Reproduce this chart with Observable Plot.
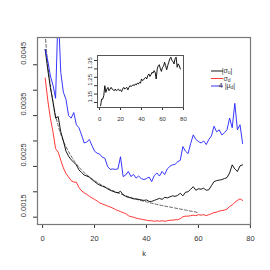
<!DOCTYPE html>
<html>
<head>
<meta charset="utf-8">
<script src="https://cdn.jsdelivr.net/npm/d3@7"></script>
<script src="https://cdn.jsdelivr.net/npm/@observablehq/plot@0.6"></script>
<style>
  html, body { margin: 0; padding: 0; background: #fff; }
  #wrap { position: relative; width: 270px; height: 270px; }
  #inset { position: absolute; left: 79px; top: 47px; }
</style>
</head>
<body>
<div id="wrap"><div id="main"></div><div id="inset"></div></div>
<script>
// ---- data ----
const k = d3.range(1, 78);
const sigmaU = [0.00480,0.00440,0.00405,0.00378,0.00345,0.00348,0.00318,0.00300,0.00280,0.00270,
  0.00263,0.00258,0.00253,0.00243,0.00238,0.00233,0.00231,0.00229,0.00224,0.00220,
  0.00216,0.00213,0.00211,0.00209,0.00206,0.00203,0.00201,0.00199,0.00198,0.00201,
  0.00194,0.00191,0.00189,0.00188,0.00186,0.00186,0.00185,0.00184,0.00183,0.00184,
  0.00181,0.00181,0.00183,0.00185,0.00187,0.00185,0.00189,0.00188,0.00190,0.00192,
  0.00191,0.00193,0.00197,0.00192,0.00199,0.00200,0.00205,0.00210,0.00203,0.00206,
  0.00205,0.00207,0.00203,0.00204,0.00212,0.00220,0.00222,0.00223,0.00224,0.00226,
  0.00228,0.00237,0.00253,0.00245,0.00240,0.00251,0.00253];
const sigmaD = [0.00424,0.00380,0.00345,0.00318,0.00285,0.00278,0.00262,0.00247,0.00236,0.00229,
  0.00222,0.00219,0.00219,0.00208,0.00202,0.00198,0.00195,0.00191,0.00188,0.00185,
  0.00182,0.00178,0.00176,0.00174,0.00172,0.00170,0.00168,0.00165,0.00163,0.00161,
  0.00159,0.00157,0.00153,0.00151,0.00150,0.00148,0.00147,0.00146,0.00145,0.00144,
  0.00143,0.00143,0.00142,0.00143,0.00142,0.00143,0.00142,0.00143,0.00144,0.00144,
  0.00145,0.00145,0.00147,0.00151,0.00152,0.00152,0.00153,0.00154,0.00153,0.00155,
  0.00154,0.00155,0.00153,0.00155,0.00157,0.00159,0.00160,0.00162,0.00163,0.00164,
  0.00166,0.00171,0.00174,0.00179,0.00183,0.00186,0.00183];
const muD4 = [0.00480,0.00458,0.00428,0.00410,0.00384,0.00560,0.00435,0.00396,0.00382,0.00350,
  0.00345,0.00356,0.00332,0.00326,0.00312,0.00296,0.00298,0.00303,0.00291,0.00280,
  0.00276,0.00274,0.00268,0.00266,0.00250,0.00244,0.00245,0.00244,0.00245,0.00269,
  0.00230,0.00233,0.00240,0.00230,0.00234,0.00227,0.00231,0.00226,0.00224,0.00226,
  0.00229,0.00220,0.00232,0.00237,0.00231,0.00240,0.00234,0.00245,0.00250,0.00253,
  0.00254,0.00259,0.00262,0.00289,0.00280,0.00275,0.00295,0.00312,0.00303,0.00299,
  0.00296,0.00300,0.00293,0.00303,0.00310,0.00329,0.00318,0.00322,0.00312,0.00316,
  0.00322,0.00345,0.00326,0.00374,0.00322,0.00332,0.00295];
const fitK = [1,2,3,4,5,6,8,10,12,15,20,25,30,35,40,45,50,55,60];
const fitV = [0.00510,0.00450,0.00410,0.00375,0.00350,0.00330,0.00300,0.00279,0.00262,0.00243,
  0.00222,0.00207,0.00196,0.00187,0.00180,0.00174,0.00169,0.00164,0.00159];
const ratio = [1.13,1.17,1.17,1.19,1.25,1.21,1.23,1.24,1.22,1.23,
  1.24,1.23,1.225,1.22,1.23,1.22,1.225,1.23,1.22,1.225,
  1.215,1.23,1.24,1.23,1.235,1.24,1.225,1.24,1.25,1.245,
  1.25,1.255,1.25,1.26,1.255,1.265,1.26,1.27,1.265,1.29,
  1.28,1.285,1.295,1.30,1.29,1.31,1.32,1.305,1.315,1.33,
  1.325,1.34,1.33,1.29,1.35,1.37,1.375,1.35,1.335,1.36,
  1.365,1.39,1.37,1.345,1.37,1.39,1.41,1.42,1.40,1.395,
  1.38,1.41,1.42,1.36,1.38,1.37,1.35];
const xTicks = [0, 20, 40, 60, 80];
const yTicks = [0.0015, 0.0020, 0.0025, 0.0030, 0.0035, 0.0040, 0.0045];
const yLabels = [0.0015, 0.0025, 0.0035, 0.0045];
const insetYTicks = [1.15, 1.20, 1.25, 1.30, 1.35, 1.40];
const insetYLabels = [1.15, 1.25, 1.35];

const font = "'Liberation Sans', Arial, sans-serif";
const ink = "#333";

const main = Plot.plot({
  width: 270, height: 270,
  marginLeft: 37, marginRight: 20, marginTop: 37, marginBottom: 46,
  style: {fontFamily: font, fontSize: "7.5px", color: ink, background: "#fff"},
  x: {domain: [-1.96, 80.04], ticks: xTicks, tickSize: 4, tickPadding: 7, label: null},
  y: {domain: [0.001356, 0.005037], ticks: yTicks, tickSize: 4, tickFormat: () => "", label: null},
  marks: [
    Plot.line(fitK, {x: d => d, y: (d, i) => fitV[i], stroke: "#666", strokeWidth: 1, strokeDasharray: "3,2", curve: "monotone-x", clip: true}),
    Plot.line(k, {x: d => d, y: (d, i) => sigmaU[i], stroke: "#000", strokeWidth: 0.9, clip: true}),
    Plot.line(k, {x: d => d, y: (d, i) => sigmaD[i], stroke: "#ff2020", strokeWidth: 0.9, clip: true}),
    Plot.line(k, {x: d => d, y: (d, i) => muD4[i], stroke: "#2020ff", strokeWidth: 0.9, clip: true}),
    Plot.text(yLabels, {y: d => d, text: d => d.toFixed(4), frameAnchor: "left", dx: -14, rotate: -90, fill: ink}),
    Plot.text(["k"], {text: d => d, frameAnchor: "bottom", dy: 31, fill: ink}),
    Plot.frame({stroke: "#777", strokeWidth: 1.2})
  ]
});
document.getElementById("main").appendChild(main);

// legend
const svg = d3.select(main);
const leg = [
  {c: "#000", parts: [["|σ", 0], ["u", 1], ["|", 0]]},
  {c: "#ff2020", parts: [["σ", 0], ["d", 1]]},
  {c: "#2020ff", parts: [["4 |μ", 0], ["d", 1], ["|", 0]]}
];
const ly = [71, 78.5, 86];
leg.forEach((e, i) => {
  svg.append("line").attr("x1", 211).attr("x2", 223).attr("y1", ly[i]).attr("y2", ly[i])
    .attr("stroke", e.c).attr("stroke-width", 0.9);
  const t = svg.append("text").attr("x", 227).attr("y", ly[i]).attr("dy", "0.3em")
    .attr("font-size", 7).attr("font-family", font).attr("fill", ink);
  e.parts.forEach(([s, sub]) => {
    const ts = t.append("tspan").text(s);
    if (sub) ts.attr("font-size", 5).attr("dy", "1.2");
    else if (s === "|") ts.attr("dy", "-1.2");
  });
});

const inset = Plot.plot({
  width: 111, height: 78,
  marginLeft: 18, marginRight: 7, marginTop: 8, marginBottom: 18,
  style: {fontFamily: font, fontSize: "6px", color: ink, background: "#fff"},
  x: {domain: [-1.96, 80.04], ticks: xTicks, tickSize: 3, tickPadding: 6, label: null},
  y: {domain: [1.12, 1.43], ticks: insetYTicks, tickSize: 3, tickFormat: () => "", label: null},
  marks: [
    Plot.line(k, {x: d => d, y: (d, i) => ratio[i], stroke: "#000", strokeWidth: 0.9}),
    Plot.text(insetYLabels, {y: d => d, text: d => d.toFixed(2), frameAnchor: "left", dx: -7.5, rotate: -90, fill: ink}),
    Plot.frame({stroke: "#555", strokeWidth: 1})
  ]
});
document.getElementById("inset").appendChild(inset);
</script>
</body>
</html>
